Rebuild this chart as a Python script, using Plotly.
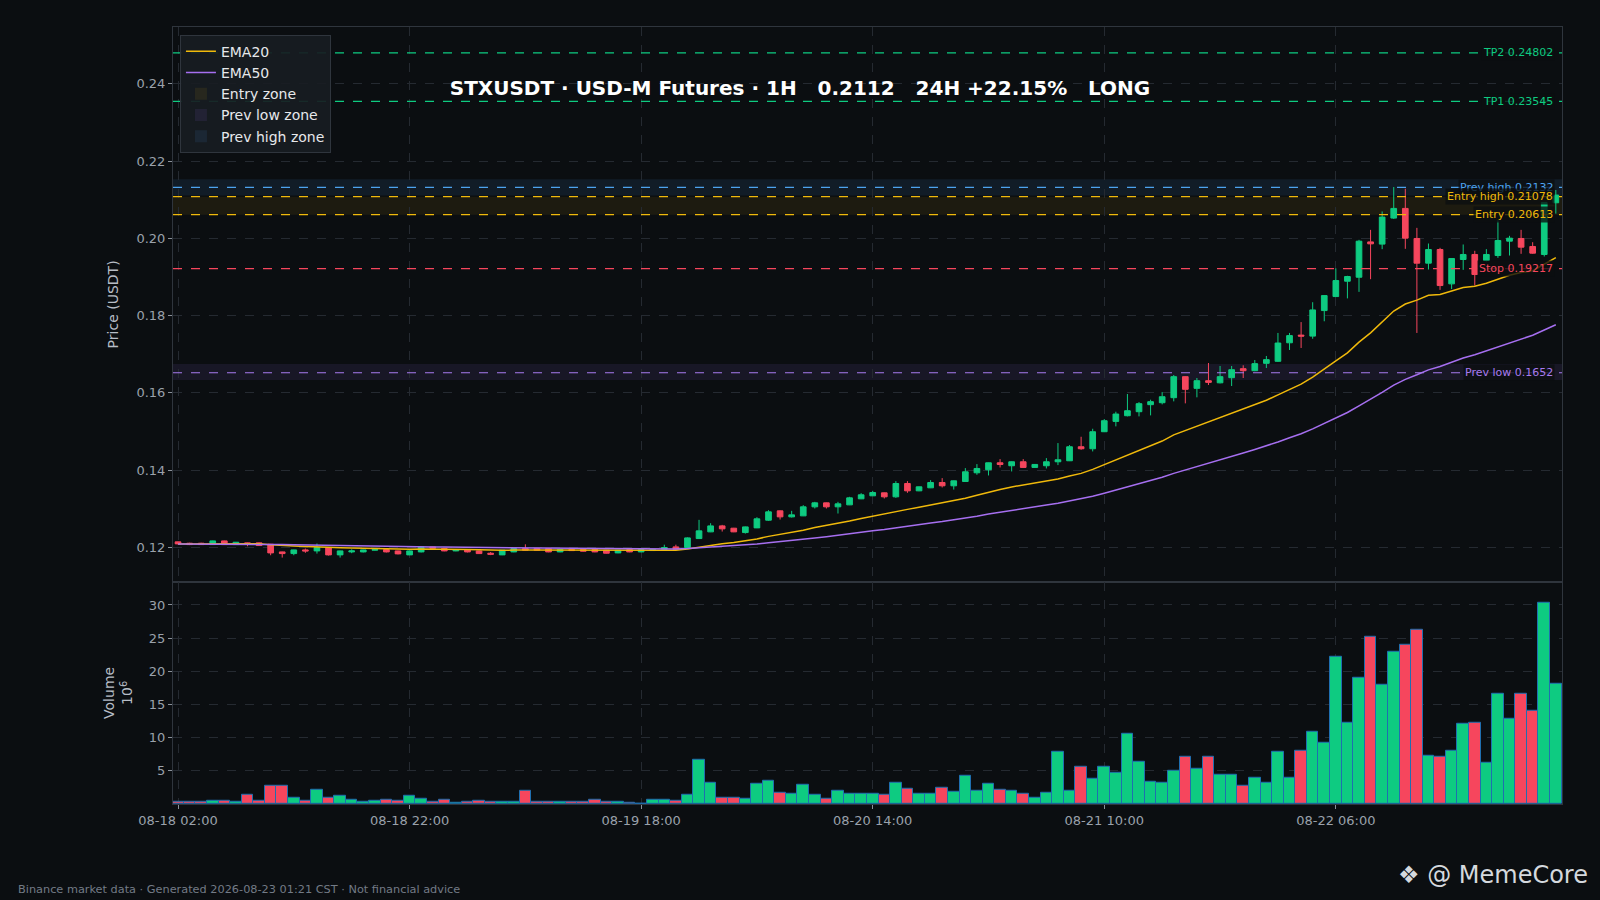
import pandas as pd
import plotly.graph_objects as go
from plotly.subplots import make_subplots

# ---------------- data ----------------
start_time = "2026-08-18 02:00"
n_bars = 120

opens = [0.12143, 0.12108, 0.12108, 0.12073, 0.12168, 0.12073, 0.12117, 0.12117, 0.12082, 0.11883,
         0.11840, 0.11935, 0.11909, 0.11996, 0.11806, 0.11883, 0.11883, 0.11927, 0.11944, 0.11909,
         0.11806, 0.11883, 0.12013, 0.11970, 0.11909, 0.11944, 0.11909, 0.11849, 0.11806, 0.11883,
         0.11970, 0.11970, 0.11970, 0.11883, 0.11944, 0.11944, 0.11944, 0.11927, 0.11857, 0.11944,
         0.11883, 0.11918, 0.11952, 0.12013, 0.11996, 0.12229, 0.12402, 0.12557, 0.12497, 0.12384,
         0.12505, 0.12704, 0.12946, 0.12790, 0.12816, 0.13050, 0.13153, 0.13050, 0.13101, 0.13257,
         0.13335, 0.13412, 0.13309, 0.13654, 0.13464, 0.13542, 0.13680, 0.13594, 0.13706, 0.13931,
         0.14009, 0.14190, 0.14113, 0.14216, 0.14070, 0.14113, 0.14216, 0.14242, 0.14605, 0.14553,
         0.14994, 0.15261, 0.15408, 0.15512, 0.15694, 0.15745, 0.15875, 0.16419, 0.16117, 0.16315,
         0.16260, 0.16393, 0.16626, 0.16574, 0.16764, 0.16817, 0.17296, 0.17495, 0.17469, 0.18130,
         0.18493, 0.18890, 0.18993, 0.19908, 0.19850, 0.20524, 0.20774, 0.19996, 0.19357, 0.19711,
         0.18821, 0.19452, 0.19582, 0.19426, 0.19555, 0.19927, 0.19996, 0.19789, 0.19582, 0.20920]
highs = [0.12150, 0.12120, 0.12120, 0.12175, 0.12175, 0.12140, 0.12125, 0.12125, 0.12090, 0.11890,
         0.11940, 0.11970, 0.12100, 0.12000, 0.11915, 0.11950, 0.11940, 0.11970, 0.11950, 0.11915,
         0.11915, 0.12020, 0.12020, 0.11980, 0.11950, 0.11950, 0.11915, 0.11880, 0.11930, 0.11975,
         0.12080, 0.11980, 0.11975, 0.11950, 0.11955, 0.11950, 0.11950, 0.11935, 0.11930, 0.11950,
         0.11950, 0.11950, 0.12070, 0.12070, 0.12260, 0.12713, 0.12626, 0.12583, 0.12505, 0.12540,
         0.12782, 0.12963, 0.12955, 0.12946, 0.13093, 0.13179, 0.13160, 0.13179, 0.13309, 0.13404,
         0.13464, 0.13420, 0.13715, 0.13715, 0.13575, 0.13741, 0.13793, 0.13730, 0.14052, 0.14156,
         0.14195, 0.14285, 0.14225, 0.14285, 0.14155, 0.14311, 0.14700, 0.14648, 0.14864, 0.15071,
         0.15321, 0.15512, 0.15970, 0.15762, 0.15823, 0.16021, 0.16462, 0.16428, 0.16385, 0.16773,
         0.16696, 0.16696, 0.16713, 0.16851, 0.16955, 0.17551, 0.17551, 0.17832, 0.18346, 0.18530,
         0.19223, 0.19030, 0.19961, 0.20219, 0.20696, 0.21327, 0.21284, 0.20271, 0.19866, 0.19754,
         0.19490, 0.19841, 0.19677, 0.19720, 0.20463, 0.20065, 0.20219, 0.19900, 0.20940, 0.21250]
lows = [0.12080, 0.12060, 0.12065, 0.12065, 0.12065, 0.12065, 0.12030, 0.12040, 0.11797, 0.11736,
        0.11797, 0.11860, 0.11840, 0.11790, 0.11736, 0.11850, 0.11870, 0.11920, 0.11870, 0.11820,
        0.11800, 0.11870, 0.11970, 0.11900, 0.11900, 0.11870, 0.11830, 0.11800, 0.11800, 0.11875,
        0.11920, 0.11920, 0.11875, 0.11875, 0.11910, 0.11890, 0.11875, 0.11840, 0.11850, 0.11875,
        0.11875, 0.11910, 0.11945, 0.11940, 0.11990, 0.12220, 0.12395, 0.12410, 0.12395, 0.12358,
        0.12500, 0.12687, 0.12721, 0.12773, 0.12810, 0.13007, 0.13007, 0.12877, 0.13095, 0.13250,
        0.13330, 0.13266, 0.13283, 0.13412, 0.13455, 0.13535, 0.13551, 0.13497, 0.13700, 0.13880,
        0.13862, 0.14069, 0.13966, 0.14060, 0.14060, 0.14044, 0.14130, 0.14235, 0.14527, 0.14484,
        0.14985, 0.15132, 0.15391, 0.15391, 0.15417, 0.15702, 0.15780, 0.15728, 0.15884, 0.16203,
        0.16246, 0.16177, 0.16385, 0.16560, 0.16643, 0.16800, 0.17110, 0.17162, 0.17400, 0.17853,
        0.18480, 0.18445, 0.18614, 0.18942, 0.19719, 0.20500, 0.19728, 0.17551, 0.19193, 0.18666,
        0.18687, 0.19184, 0.18778, 0.19400, 0.19495, 0.19555, 0.19599, 0.19600, 0.19530, 0.20640]
closes = [0.12091, 0.12073, 0.12073, 0.12168, 0.12073, 0.12134, 0.12091, 0.12048, 0.11857, 0.11840,
          0.11935, 0.11909, 0.11996, 0.11806, 0.11909, 0.11909, 0.11935, 0.11944, 0.11883, 0.11832,
          0.11909, 0.12013, 0.11978, 0.11909, 0.11944, 0.11883, 0.11840, 0.11823, 0.11927, 0.11970,
          0.11927, 0.11927, 0.11883, 0.11944, 0.11918, 0.11900, 0.11883, 0.11849, 0.11927, 0.11883,
          0.11944, 0.11944, 0.11996, 0.11952, 0.12246, 0.12428, 0.12557, 0.12480, 0.12402, 0.12531,
          0.12739, 0.12920, 0.12790, 0.12842, 0.13050, 0.13153, 0.13050, 0.13127, 0.13283, 0.13361,
          0.13421, 0.13309, 0.13654, 0.13464, 0.13568, 0.13680, 0.13594, 0.13723, 0.13957, 0.14043,
          0.14190, 0.14147, 0.14216, 0.14070, 0.14147, 0.14216, 0.14268, 0.14605, 0.14553, 0.14994,
          0.15279, 0.15452, 0.15538, 0.15720, 0.15772, 0.15900, 0.16419, 0.16091, 0.16315, 0.16272,
          0.16419, 0.16600, 0.16574, 0.16756, 0.16860, 0.17290, 0.17482, 0.17469, 0.18147, 0.18518,
          0.18907, 0.19011, 0.19926, 0.19857, 0.20550, 0.20774, 0.20005, 0.19357, 0.19711, 0.18778,
          0.19478, 0.19582, 0.19063, 0.19582, 0.19944, 0.20004, 0.19771, 0.19616, 0.20929, 0.21120]
volumes_m = [0.28, 0.28, 0.28, 0.48, 0.48, 0.33, 1.38, 0.48, 2.74, 2.74,
             0.98, 0.43, 2.13, 0.98, 1.23, 0.63, 0.33, 0.48, 0.63, 0.48,
             1.23, 0.78, 0.33, 0.63, 0.18, 0.33, 0.48, 0.30, 0.40, 0.30,
             2.00, 0.40, 0.40, 0.40, 0.30, 0.30, 0.60, 0.30, 0.40, 0.20,
             0.10, 0.60, 0.70, 0.50, 1.40, 6.65, 3.19, 1.00, 1.00, 0.80,
             3.04, 3.49, 1.68, 1.53, 2.89, 1.38, 0.80, 1.98, 1.53, 1.53,
             1.53, 1.38, 3.19, 2.28, 1.53, 1.53, 2.43, 1.83, 4.24, 1.98,
             3.04, 2.13, 1.98, 1.53, 1.00, 1.68, 7.86, 1.98, 5.60, 3.79,
             5.60, 4.69, 10.57, 6.35, 3.34, 3.19, 5.00, 7.10, 5.30, 7.10,
             4.39, 4.39, 2.74, 3.94, 3.19, 7.86, 3.94, 8.01, 10.87, 9.21,
             22.16, 12.22, 19.00, 25.18, 17.95, 22.90, 23.97, 26.23, 7.25, 7.10,
             8.01, 12.07, 12.22, 6.20, 16.59, 12.83, 16.59, 14.03, 30.30, 18.10]

level_names = ["TP2", "TP1", "Prev high", "Entry high", "Entry", "Stop", "Prev low"]
level_values = [0.24802, 0.23545, 0.2132, 0.21078, 0.20613, 0.19217, 0.1652]
level_labels = ["TP2 0.24802", "TP1 0.23545", "Prev high 0.2132", "Entry high 0.21078",
                "Entry 0.20613", "Stop 0.19217", "Prev low 0.1652"]
level_colors = ["#0ecb81", "#0ecb81", "#4da3ee", "#f0b90b", "#f0b90b", "#f6465d", "#a77bf0"]

zone_names = ["Entry zone", "Prev low zone", "Prev high zone"]
zone_low = [0.20613, 0.1633, 0.2111]
zone_high = [0.21078, 0.1675, 0.2153]
zone_fill = ["rgba(240,185,11,0.08)", "rgba(120,90,200,0.12)", "rgba(60,120,190,0.13)"]

title_text = "STXUSDT · USD-M Futures · 1H   0.2112   24H +22.15%   LONG"
footer_text = "Binance market data · Generated 2026-08-23 01:21 CST · Not financial advice"

# ---------------- derived ----------------
times = pd.date_range(start_time, periods=n_bars, freq="h")
close_s = pd.Series(closes)
ema20 = close_s.ewm(span=20, adjust=False).mean()
ema50 = close_s.ewm(span=50, adjust=False).mean()
UP, DOWN = "#0ecb81", "#f6465d"
vol_colors = [UP if c >= o else DOWN for o, c in zip(opens, closes)]

BG = "#0b0e11"
GRID = "#252a31"
AXIS = "#2f353d"
TICK = "#9aa1ab"
FONT = "DejaVu Sans"

fig = make_subplots(rows=2, cols=1, shared_xaxes=True, vertical_spacing=0.0,
                    row_heights=[0.714, 0.286])

fig.add_trace(go.Candlestick(
    x=times, open=opens, high=highs, low=lows, close=closes,
    increasing=dict(line=dict(color=UP, width=1), fillcolor=UP),
    decreasing=dict(line=dict(color=DOWN, width=1), fillcolor=DOWN),
    showlegend=False, name="STXUSDT"), row=1, col=1)

fig.add_trace(go.Scatter(x=times, y=ema20, mode="lines", name="EMA20",
                         line=dict(color="#f0b90b", width=1.5)), row=1, col=1)
fig.add_trace(go.Scatter(x=times, y=ema50, mode="lines", name="EMA50",
                         line=dict(color="#a66ff0", width=1.5)), row=1, col=1)

fig.add_trace(go.Bar(x=times, y=volumes_m, marker=dict(color=vol_colors,
                     line=dict(color="#1f6fb0", width=1)),
                     showlegend=False, name="Volume"), row=2, col=1)

# zones (with legend entries)
for nm, lo, hi, fc in zip(zone_names, zone_low, zone_high, zone_fill):
    fig.add_shape(type="rect", xref="x domain", yref="y", x0=0, x1=1, y0=lo, y1=hi,
                  fillcolor=fc, line=dict(width=0), layer="below",
                  showlegend=True, name=nm)

# level lines + labels
for nm, val, lab, col in zip(level_names, level_values, level_labels, level_colors):
    fig.add_shape(type="line", xref="x domain", yref="y", x0=0, x1=1, y0=val, y1=val,
                  line=dict(color=col, width=1.2, dash="dash"))
    fig.add_annotation(xref="paper", yref="y", x=0.995, y=val, text=lab, showarrow=False,
                       xanchor="right", yanchor="middle",
                       font=dict(family=FONT, size=11, color=col),
                       bgcolor="rgba(11,14,17,0.78)", borderpad=1)

x_start = times[0] - pd.Timedelta(minutes=26)
x_end = times[-1] + pd.Timedelta(minutes=32)

common_x = dict(showgrid=True, gridcolor=GRID, griddash="dash", gridwidth=1,
                showline=True, linecolor=AXIS, mirror=True, zeroline=False,
                range=[x_start, x_end], tick0=times[0], dtick=20 * 3600 * 1000,
                rangeslider=dict(visible=False))
fig.update_xaxes(**common_x, showticklabels=False, row=1, col=1)
fig.update_xaxes(**common_x, tickformat="%m-%d %H:%M", ticks="outside", ticklen=4,
                 tickcolor="#8a919a", tickfont=dict(family=FONT, size=13, color=TICK),
                 row=2, col=1)

fig.update_yaxes(range=[0.1111, 0.2547], tickvals=[0.12, 0.14, 0.16, 0.18, 0.20, 0.22, 0.24],
                 tickformat=".2f", showgrid=True, gridcolor=GRID, griddash="dash",
                 showline=True, linecolor=AXIS, mirror=True, zeroline=False,
                 ticks="outside", ticklen=4, tickcolor="#8a919a",
                 tickfont=dict(family=FONT, size=13, color=TICK),
                 title=dict(text="Price (USDT)", font=dict(family=FONT, size=14, color="#b7bdc6"),
                            standoff=14),
                 row=1, col=1)
fig.update_yaxes(range=[0, 33.5], tickvals=[5, 10, 15, 20, 25, 30],
                 showgrid=True, gridcolor=GRID, griddash="dash",
                 showline=True, linecolor=AXIS, mirror=True, zeroline=False,
                 ticks="outside", ticklen=4, tickcolor="#8a919a",
                 tickfont=dict(family=FONT, size=13, color=TICK),
                 title=dict(text="Volume<br>10<sup>6</sup>",
                            font=dict(family=FONT, size=14, color="#b7bdc6"), standoff=12),
                 row=2, col=1)

fig.update_layout(
    width=1600, height=900,
    paper_bgcolor=BG, plot_bgcolor=BG,
    margin=dict(l=173, r=38, t=27, b=96),
    font=dict(family=FONT, color="#c9cfd6"),
    bargap=0.0,
    title=dict(text=title_text.replace("   ", "\u00a0\u00a0\u00a0"), x=0.5, xanchor="center",
               xref="container", y=1 - 87.7 / 900, yref="container", yanchor="middle",
               font=dict(family=FONT, size=20, color="#ffffff", weight="bold")),
    legend=dict(x=0.005, y=0.99, xanchor="left", yanchor="top",
                bgcolor="rgba(24,28,34,0.92)", bordercolor="#2f353d", borderwidth=1,
                font=dict(family=FONT, size=14, color="#e6e8eb"), tracegroupgap=0),
    showlegend=True,
)

fig.add_annotation(xref="paper", yref="paper", x=-0.1133, y=-0.110, text=footer_text,
                   showarrow=False, xanchor="left", yanchor="middle",
                   font=dict(family=FONT, size=11.3, color="#737b86"))
fig.add_annotation(xref="paper", yref="paper", x=1.0202, y=-0.092, text="❖ @ MemeCore",
                   showarrow=False, xanchor="right", yanchor="middle",
                   font=dict(family=FONT, size=24, color="#d5d9de"))

fig.write_html("out.html", config={"displayModeBar": False},
               post_script="document.body.style.margin='0';"
                           "document.body.style.background='#0b0e11';")
